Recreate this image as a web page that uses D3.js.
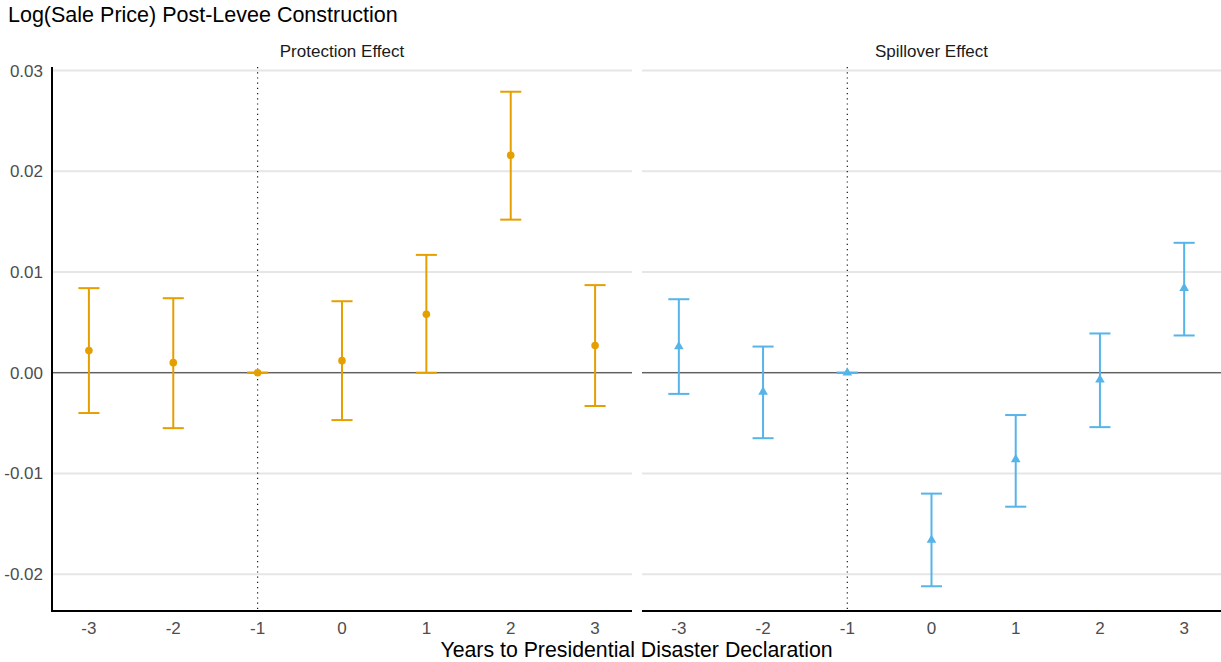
<!DOCTYPE html>
<html>
<head>
<meta charset="utf-8">
<script src="https://cdn.jsdelivr.net/npm/d3@7"></script>
<style>
  body { margin: 0; background: #fff; }
  text { font-family: "Liberation Sans", Arial, sans-serif; }
</style>
</head>
<body>
<div id="chart"></div>
<script>
// data
var years = [-3, -2, -1, 0, 1, 2, 3]
var panels = ["Protection Effect", "Spillover Effect"]

var protEst = [0.0022, 0.0010, 0, 0.0012, 0.0058, 0.0216, 0.0027]
var protLo  = [-0.0040, -0.0055, 0, -0.0047, 0.0000, 0.0152, -0.0033]
var protHi  = [0.0084, 0.0074, 0, 0.0071, 0.0117, 0.0279, 0.0087]

var spillEst = [0.0026, -0.0019, 0, -0.0166, -0.0086, -0.0007, 0.0084]
var spillLo  = [-0.0021, -0.0065, 0, -0.0212, -0.0133, -0.0054, 0.0037]
var spillHi  = [0.0073, 0.0026, 0, -0.0120, -0.0042, 0.0039, 0.0129]

var yTicks = [-0.02, -0.01, 0.00, 0.01, 0.02, 0.03]

var width = 1221, height = 662
var svg = d3.select("#chart").append("svg")
	.attr("width", width)
	.attr("height", height)

var panelTop = 67, panelBottom = 611
var panelX = [[52, 632], [642, 1221]]
var colors = ["#E69F00", "#56B4E9"]

var series = [
	{est: protEst, lo: protLo, hi: protHi},
	{est: spillEst, lo: spillLo, hi: spillHi}
]

// y limits with ggplot style 5% expansion
var allLo = d3.min(protLo.concat(spillLo)), allHi = d3.max(protHi.concat(spillHi))
var pad = (allHi - allLo) * 0.05
var y = d3.scaleLinear().domain([allLo - pad, allHi + pad]).range([panelBottom, panelTop])

var capW = 0.25
var xpad = (6 + capW) * 0.05 + capW / 2

svg.append("text")
	.attr("x", 8).attr("y", 22)
	.attr("font-size", 21.5).attr("fill", "#000")
	.text("Log(Sale Price) Post-Levee Construction")

panels.forEach(function(name, p) {
	var x = d3.scaleLinear().domain([-3 - xpad, 3 + xpad]).range(panelX[p])
	var g = svg.append("g")
	var s = series[p]

	// grid
	g.selectAll(".grid").data(yTicks).enter().append("line")
		.attr("x1", panelX[p][0]).attr("x2", panelX[p][1])
		.attr("y1", d => y(d)).attr("y2", d => y(d))
		.attr("stroke", "#e6e6e6").attr("stroke-width", 2)

	// strip label
	g.append("text")
		.attr("x", (panelX[p][0] + panelX[p][1]) / 2).attr("y", 57)
		.attr("text-anchor", "middle").attr("font-size", 17).attr("fill", "#1a1a1a")
		.text(name)

	// zero line
	g.append("line")
		.attr("x1", panelX[p][0]).attr("x2", panelX[p][1])
		.attr("y1", y(0)).attr("y2", y(0))
		.attr("stroke", "#333").attr("stroke-width", 1.2)

	// dotted reference year
	g.append("line")
		.attr("x1", x(-1)).attr("x2", x(-1))
		.attr("y1", panelTop).attr("y2", panelBottom)
		.attr("stroke", "#000").attr("stroke-width", 1.1)
		.attr("stroke-dasharray", "1.2,4")

	var bars = g.selectAll(".eb").data(years).enter().append("g")
	bars.append("line")
		.attr("x1", d => x(d)).attr("x2", d => x(d))
		.attr("y1", (d, i) => y(s.lo[i])).attr("y2", (d, i) => y(s.hi[i]))
		.attr("stroke", colors[p]).attr("stroke-width", 2)
	bars.append("line")
		.attr("x1", d => x(d - capW / 2)).attr("x2", d => x(d + capW / 2))
		.attr("y1", (d, i) => y(s.lo[i])).attr("y2", (d, i) => y(s.lo[i]))
		.attr("stroke", colors[p]).attr("stroke-width", 2)
	bars.append("line")
		.attr("x1", d => x(d - capW / 2)).attr("x2", d => x(d + capW / 2))
		.attr("y1", (d, i) => y(s.hi[i])).attr("y2", (d, i) => y(s.hi[i]))
		.attr("stroke", colors[p]).attr("stroke-width", 2)

	if (p == 0) {
		bars.append("circle")
			.attr("cx", d => x(d)).attr("cy", (d, i) => y(s.est[i]))
			.attr("r", 3.8).attr("fill", colors[p])
	} else {
		bars.append("path")
			.attr("transform", (d, i) => "translate(" + x(d) + "," + y(s.est[i]) + ")")
			.attr("d", d3.symbol().type(d3.symbolTriangle).size(40))
			.attr("fill", colors[p])
	}

	// x axis line
	g.append("line")
		.attr("x1", panelX[p][0]).attr("x2", panelX[p][1])
		.attr("y1", panelBottom).attr("y2", panelBottom)
		.attr("stroke", "#000").attr("stroke-width", 2)

	g.selectAll(".xt").data(years).enter().append("text")
		.attr("x", d => x(d)).attr("y", 634)
		.attr("text-anchor", "middle").attr("font-size", 17).attr("fill", "#4d4d4d")
		.text(d => d)

	if (p == 0) {
		g.append("line")
			.attr("x1", panelX[p][0]).attr("x2", panelX[p][0])
			.attr("y1", panelTop).attr("y2", panelBottom + 1)
			.attr("stroke", "#000").attr("stroke-width", 2)
		g.selectAll(".yt").data(yTicks).enter().append("text")
			.attr("x", 43).attr("y", d => y(d) + 6)
			.attr("text-anchor", "end").attr("font-size", 17).attr("fill", "#4d4d4d")
			.text(d => d.toFixed(2))
	}
})

svg.append("text")
	.attr("x", (52 + 1221) / 2).attr("y", 657)
	.attr("text-anchor", "middle").attr("font-size", 21.3).attr("fill", "#000")
	.text("Years to Presidential Disaster Declaration")
</script>
</body>
</html>
